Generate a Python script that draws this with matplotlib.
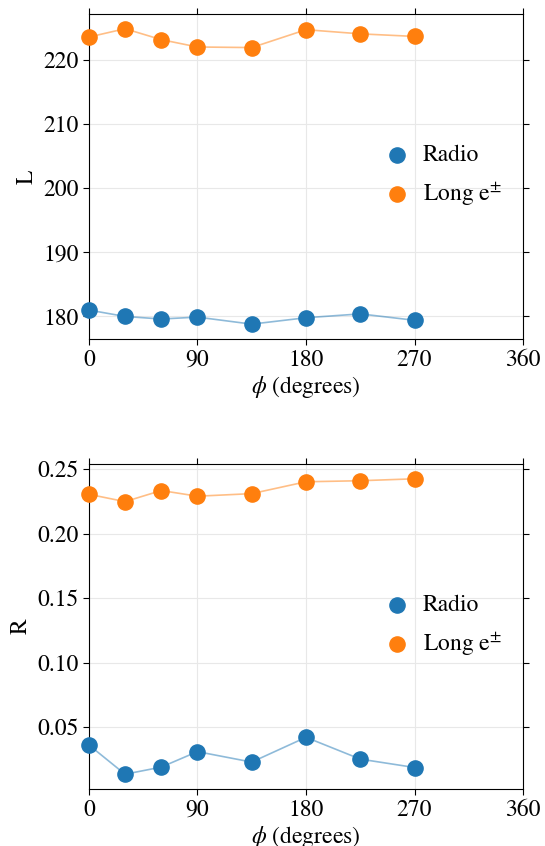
import numpy as np
from matplotlib import pyplot as plt

plt.rcParams['font.family'] = ['STIXGeneral', 'Liberation Serif', 'DejaVu Serif']
plt.rcParams['mathtext.fontset'] = 'stix'
plt.rcParams['font.size'] = 17

phi = [0, 30, 60, 90, 135, 180, 225, 270]

L_radio = [181.0, 180.0, 179.6, 179.9, 178.8, 179.8, 180.4, 179.4]
L_long = [223.6, 224.9, 223.2, 222.05, 221.96, 224.75, 224.1, 223.7]

R_radio = [0.0362, 0.0135, 0.0190, 0.0310, 0.0229, 0.0421, 0.0252, 0.0187]
R_long = [0.2305, 0.2248, 0.2334, 0.2290, 0.2310, 0.2402, 0.2410, 0.2425]

labels = ['Radio', r'Long e$^{\pm}$']


def draw(ax, series, ylabel):
    for i, y in enumerate(series):
        color = 'C{}'.format(i)
        ax.plot(phi, y, color=color, lw=1.2, alpha=0.5, zorder=2)
        ax.scatter(phi, y, s=120, color=color, label=labels[i],
                   zorder=3, clip_on=False)
    ax.set_xlim(0, 360)
    ax.set_xticks(np.arange(0, 361, 90))
    ax.grid(True, color='#e8e8e8', lw=0.8)
    ax.set_axisbelow(True)
    ax.tick_params(top=True, right=True, direction='out', length=4)
    ax.set_xlabel(r'$\phi$ (degrees)', labelpad=2)
    ax.set_ylabel(ylabel)
    ax.legend(loc='center right', frameon=False, fontsize=17,
              handletextpad=0.1, labelspacing=0.62)


fig, (ax1, ax2) = plt.subplots(2, 1, figsize=(5.45, 8.46), dpi=100)
fig.subplots_adjust(left=0.163, right=0.96, top=0.9835, bottom=0.0674,
                    hspace=0.385)

draw(ax1, [L_radio, L_long], 'L')
ax1.set_yticks([180, 190, 200, 210, 220])
draw(ax2, [R_radio, R_long], 'R')
ax2.set_yticks([0.05, 0.10, 0.15, 0.20, 0.25])

fig.savefig('out.png', dpi=100)
